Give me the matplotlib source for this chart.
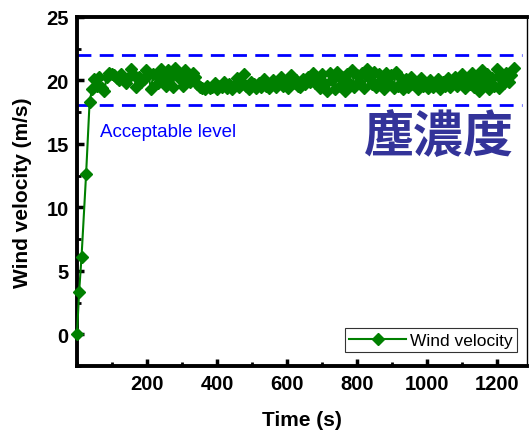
import numpy as np
import matplotlib
matplotlib.use("Agg")
import matplotlib.pyplot as plt
from matplotlib.ticker import MultipleLocator, FixedLocator

# ---- data ----
rise_t = [0, 6, 13, 26]
rise_v = [0.0, 3.3, 6.1, 12.6]
steady_start, steady_step = 36, 7
steady_v = [
    18.3, 19.3, 20.1, 19.6, 20.3, 19.4, 19.2, 20.3, 20.6, 20.5, 20.4, 20.2, 20.0, 20.5, 20.2, 19.8,
    20.3, 20.9, 20.4, 19.5, 20.3, 19.9, 20.1, 20.8, 20.5, 19.3, 20.5, 20.4, 19.8, 20.9, 20.4, 19.6,
    20.8, 20.3, 19.5, 21.0, 20.7, 20.1, 19.6, 20.8, 20.5, 19.9, 20.6, 20.3, 19.7, 19.5, 19.4, 19.3,
    19.6, 19.4, 19.5, 19.8, 19.3, 19.6, 19.5, 19.9, 19.4, 19.7, 19.3, 19.6, 20.2, 19.5, 19.8, 20.5,
    19.6, 19.3, 19.9, 19.7, 19.4, 19.8, 19.5, 20.1, 19.6, 19.4, 19.7,
    20.0, 19.5, 19.8, 20.3, 19.6, 19.9, 19.4, 20.4, 19.8, 20.0, 19.6, 19.5, 20.1, 19.7, 20.3, 19.9,
    20.6, 19.8, 20.2, 19.4, 20.5, 19.7, 19.2, 20.6, 20.0, 19.3, 20.7,
    19.6, 20.3, 19.2, 20.5, 19.8, 20.8, 19.5, 20.4, 19.9, 20.6, 19.4, 20.9, 20.2, 19.7, 20.7, 19.5,
    20.5, 20.0, 19.3, 20.6, 19.8, 20.4, 19.4, 20.7, 19.6, 20.2, 19.3,
    20.1, 19.5, 20.3, 19.7, 19.9, 19.3, 20.2, 19.6, 19.8, 19.4, 20.0, 19.5, 19.7, 20.1, 19.3, 19.9,
    19.6, 20.2, 19.5, 19.8, 20.3, 19.6, 19.9, 20.5, 19.4, 20.1, 19.7,
    20.6, 19.5, 20.3, 19.2, 20.8, 19.8, 20.5, 19.3, 20.2, 19.6, 20.9, 19.4, 20.3, 19.8, 20.6, 19.9,
    20.4, 21.0,
]
acceptable_upper = 22.0
acceptable_lower = 18.1
x_ticks = [200, 400, 600, 800, 1000, 1200]
y_ticks = [0, 5, 10, 15, 20, 25]

steady_t = steady_start + steady_step * np.arange(len(steady_v))
time = np.concatenate([rise_t, steady_t])
wind = np.concatenate([rise_v, steady_v])

# ---- figure ----
fig = plt.figure(figsize=(5.32, 4.39), dpi=100)
ax = fig.add_axes([0.1447, 0.164, 0.8459, 0.795])

ax.axhline(acceptable_upper, xmin=0, xmax=0.99, color="#0000ff", lw=2, dashes=(5, 3))
ax.axhline(acceptable_lower, xmin=0, xmax=0.99, color="#0000ff", lw=2, dashes=(5, 3))

ax.plot(time, wind, color="#008000", lw=1.5, marker="D", markersize=5.8,
        markeredgecolor="#008000", markerfacecolor="#008000", label="Wind velocity",
        clip_on=False, zorder=3)

ax.set_xlim(0, 1285)
ax.set_ylim(-2.5, 25)
ax.xaxis.set_major_locator(FixedLocator(x_ticks))
ax.xaxis.set_minor_locator(MultipleLocator(100))
ax.yaxis.set_major_locator(FixedLocator(y_ticks))
ax.yaxis.set_minor_locator(MultipleLocator(2.5))

tick_font = dict(family="Liberation Sans", weight="bold", size=14.5)
ax.set_xticklabels([str(v) for v in x_ticks], **tick_font)
ax.set_yticklabels([str(v) for v in y_ticks], **tick_font)

ax.tick_params(which="major", direction="in", length=5, width=2.5, pad=6)
ax.tick_params(which="minor", direction="in", length=3, width=2)

for s in ["left", "bottom", "top"]:
    ax.spines[s].set_linewidth(2.8)
ax.spines["right"].set_linewidth(1.0)

ax.set_xlabel("Time (s)", family="Liberation Sans", weight="bold", size=15, labelpad=12)
ax.set_ylabel("Wind velocity (m/s)", family="Liberation Sans", weight="bold", size=15, labelpad=10)

ax.text(67, 16.0, "Acceptable level", color="#0000ff", family="Liberation Sans",
        size=13.5, va="center", ha="left")
ax.text(0.972, 0.655, "塵濃度", transform=ax.transAxes, color="#333399",
        family=["Noto Sans CJK TC", "DejaVu Sans"], weight="bold", size=36,
        ha="right", va="center")

leg = ax.legend(loc="lower right", bbox_to_anchor=(0.985, 0.03), frameon=True, fancybox=False,
                prop=dict(family="Liberation Sans", size=12.5), handlelength=3.3,
                borderpad=0.25, handletextpad=0.2, borderaxespad=0.2)
leg.get_frame().set_edgecolor("black")
leg.get_frame().set_linewidth(0.8)

fig.savefig("out.png", dpi=100)
